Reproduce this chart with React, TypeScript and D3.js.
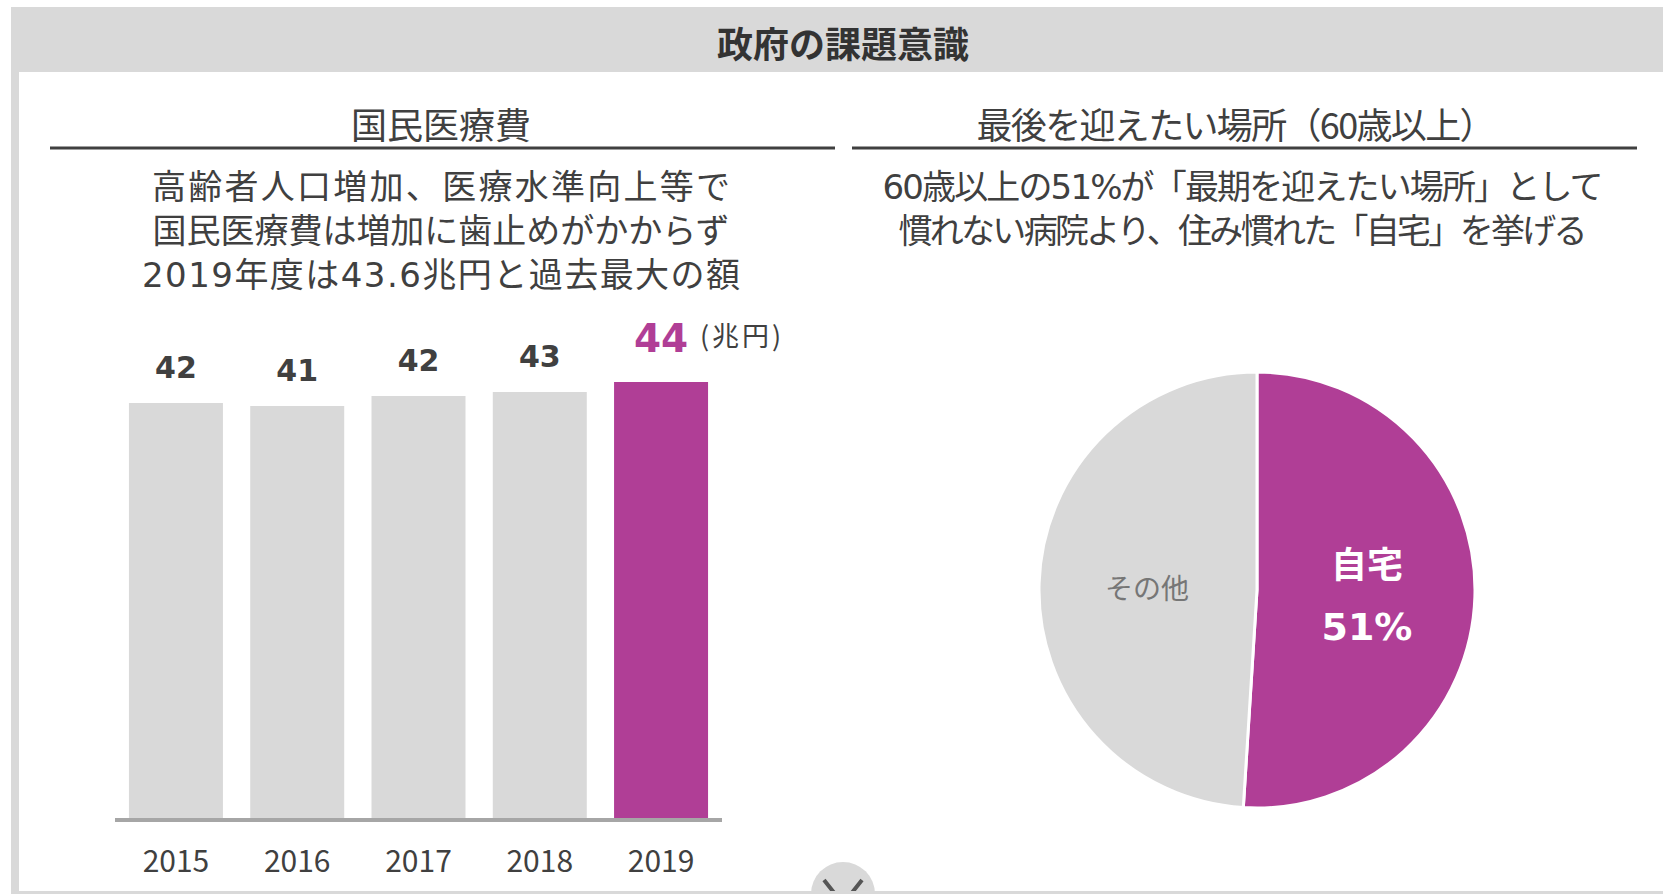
import React from 'react';
import * as d3 from 'd3';

// data
const years = ['2015', '2016', '2017', '2018', '2019'];
const medicalCost = [41.5, 41.2, 42.2, 42.6, 43.6]; // 兆円
const placeNames = ['自宅', 'その他'];
const placeShares = [51, 49];

const leftNote = [
	'高齢者人口増加、医療水準向上等で',
	'国民医療費は増加に歯止めがかからず',
	'2019年度は43.6兆円と過去最大の額',
];
const leftNoteWidths = [578, 577, 598];
const rightNote = [
	'60歳以上の51%が「最期を迎えたい場所」として',
	'慣れない病院より、住み慣れた「自宅」を挙げる',
];
const rightNoteWidths = [721, 689];

const W = 1663;
const H = 894;
const GRAY = '#d9d9d9';
const PURPLE = '#b03e96';
const TEXT = '#404040';
const JP = "'Noto Sans CJK JP', sans-serif";
const NUM = "'DejaVu Sans', 'Noto Sans CJK JP', sans-serif";

function App() {
	const baseY = 818;
	const xScale = d3
		.scaleBand()
		.domain(years)
		.range([115, 722])
		.paddingInner(0.225)
		.paddingOuter(0.115);
	const yScale = d3.scaleLinear().domain([0, 50]).range([baseY, baseY - 500]);

	// pie
	const cx = 1257;
	const cy = 590;
	const r = 218;
	const pieGen = d3
		.pie<number>()
		.sort(null)
		.value((d) => d);
	const slices = pieGen(placeShares);
	const arcGen = d3.arc<d3.PieArcDatum<number>>().innerRadius(0).outerRadius(r);
	const labelArc = d3.arc<d3.PieArcDatum<number>>().innerRadius(110).outerRadius(110);
	const [hx, hy] = labelArc.centroid(slices[0]);
	const [ox, oy] = labelArc.centroid(slices[1]);

	const last = years.length - 1;

	return (
		<div style={{ position: 'absolute', left: 0, top: 0 }}>
			<svg width={W} height={H} style={{ display: 'block', background: '#fff' }}>
				{/* frame */}
				<rect x={11} y={7} width={W - 11} height={65} fill={GRAY} />
				<rect x={11} y={7} width={8} height={H - 7} fill={GRAY} />
				<text
					x={843}
					y={42}
					textAnchor="middle"
					dominantBaseline="central"
					fontFamily={JP}
					fontWeight="bold"
					fontSize={36}
					fill="#333">
					政府の課題意識
				</text>

				{/* section headers */}
				<text x={441} y={123} textAnchor="middle" dominantBaseline="central" fontFamily={JP} fontSize={36} fill={TEXT}>
					国民医療費
				</text>
				<line x1={50} x2={835} y1={148} y2={148} stroke={TEXT} strokeWidth={3} />
				<text
					x={1236}
					y={123}
					textAnchor="middle"
					dominantBaseline="central"
					fontFamily={JP}
					fontSize={36}
					textLength={519}
					lengthAdjust="spacing"
					fill={TEXT}>
					最後を迎えたい場所（60歳以上）
				</text>
				<line x1={852} x2={1637} y1={148} y2={148} stroke={TEXT} strokeWidth={3} />

				{/* notes, one text block each */}
				<text textAnchor="middle" dominantBaseline="central" fontFamily={NUM} fontSize={34} fill={TEXT}>
					{leftNote.map((t, i) => (
						<tspan key={t} x={441} y={187 + i * 44} textLength={leftNoteWidths[i]} lengthAdjust="spacing">
							{t}
						</tspan>
					))}
				</text>
				<text textAnchor="middle" dominantBaseline="central" fontFamily={NUM} fontSize={34} fill={TEXT}>
					{rightNote.map((t, i) => (
						<tspan key={t} x={1243} y={187 + i * 44} textLength={rightNoteWidths[i]} lengthAdjust="spacing">
							{t}
						</tspan>
					))}
				</text>

				{/* bars */}
				{medicalCost.map((v, i) => (
					<rect
						key={years[i]}
						x={xScale(years[i])}
						y={yScale(v)}
						width={xScale.bandwidth()}
						height={baseY - yScale(v)}
						fill={i === last ? PURPLE : GRAY}
					/>
				))}
				<line x1={115} x2={722} y1={baseY + 2} y2={baseY + 2} stroke="#a6a6a6" strokeWidth={4} />

				{medicalCost.map((v, i) => (
					<text
						key={'v' + years[i]}
						x={xScale(years[i])! + xScale.bandwidth() / 2}
						y={yScale(v) - (i === last ? 30 : 25)}
						textAnchor="middle"
						fontFamily={NUM}
						fontWeight="bold"
						fontSize={i === last ? 39 : 30}
						fill={i === last ? PURPLE : TEXT}>
						{Math.round(v)}
					</text>
				))}
				<text
					x={xScale(years[last])! + xScale.bandwidth() / 2 + 39}
					y={yScale(medicalCost[last]) - 48}
					dominantBaseline="central"
					fontFamily={JP}
					fontSize={27}
					textLength={81}
					lengthAdjust="spacing"
					fill={TEXT}>
					(兆円)
				</text>

				{years.map((y) => (
					<text
						key={'y' + y}
						x={xScale(y)! + xScale.bandwidth() / 2}
						y={859}
						textAnchor="middle"
						dominantBaseline="central"
						fontFamily={JP}
						fontSize={30}
						fill={TEXT}>
						{y}
					</text>
				))}

				{/* pie */}
				<g transform={`translate(${cx},${cy})`}>
					{slices.map((s, i) => (
						<path
							key={placeNames[i]}
							d={arcGen(s) || ''}
							fill={i === 0 ? PURPLE : GRAY}
							stroke="#fff"
							strokeWidth={3}
						/>
					))}
					<text x={hx} y={hy - 31} textAnchor="middle" dominantBaseline="central" fontFamily={JP} fontWeight="bold" fontSize={36} fill="#fff">
						{placeNames[0]}
					</text>
					<text x={hx} y={hy + 34} textAnchor="middle" dominantBaseline="central" fontFamily={NUM} fontWeight="bold" fontSize={38} fill="#fff">
						{placeShares[0]}%
					</text>
					<text x={ox} y={oy} textAnchor="middle" dominantBaseline="central" fontFamily={JP} fontSize={28} fill="#767676">
						{placeNames[1]}
					</text>
				</g>

				{/* scroll button at the bottom */}
				<circle cx={843} cy={894} r={32} fill={GRAY} />
				<polyline points="824,880 843,904 862,880" fill="none" stroke="#555" strokeWidth={4} />
				<rect x={11} y={891} width={W - 11} height={3} fill={GRAY} />
			</svg>
		</div>
	);
}

export default App;
